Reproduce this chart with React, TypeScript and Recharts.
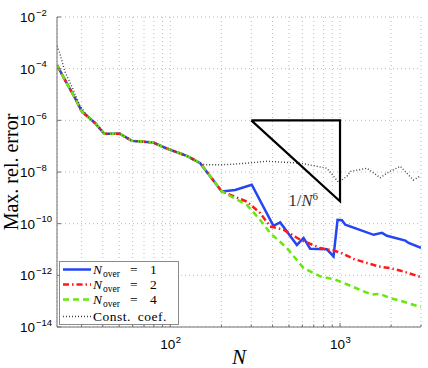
import React from 'react';
import { LineChart, Line, XAxis, YAxis, CartesianGrid, Legend, Label, ReferenceDot } from 'recharts';

// ---- data ----
const commonN = [21.5, 23.9, 27.4, 30.1, 36.0, 40.8, 50.5, 59.4, 79.0, 93.1, 127, 150];
const commonErr = [1.36e-4, 3.74e-5, 7.5e-6, 2.2e-6, 7.9e-7, 3.0e-7, 3.0e-7, 1.6e-7, 1.4e-7, 8.7e-8, 4.0e-8, 2.2e-8];

const over1N = [201, 241, 302, 405, 444, 557, 610, 667, 837, 916, 967, 1026, 1074, 1578, 1767, 1891, 2427, 2537, 3000];
const over1Err = [1.77e-9, 2.0e-9, 3.2e-9, 8.3e-11, 1.12e-10, 1.5e-11, 2.8e-11, 1.07e-11, 1.02e-11, 5.4e-12, 1.41e-10, 1.35e-10, 9.1e-11, 3.7e-11, 4.4e-11, 3.4e-11, 2.2e-11, 1.8e-11, 1.15e-11];

const over2N = [201, 282, 338, 387, 464, 582, 764, 916, 1026, 1202, 1687, 1978, 2371, 3000];
const over2Err = [1.77e-9, 7.2e-10, 2.6e-10, 7.8e-11, 5.9e-11, 2.4e-11, 1.15e-11, 9.1e-12, 7.2e-12, 4.3e-12, 2.2e-12, 1.9e-12, 1.4e-12, 8.5e-13];

const over4N = [201, 282, 338, 387, 486, 610, 764, 937, 1026, 1202, 1377, 1542, 1726, 1978, 2265, 2594, 3000];
const over4Err = [1.77e-9, 5.4e-10, 1.41e-10, 4.4e-11, 1.15e-11, 1.9e-12, 9.1e-13, 6.8e-13, 5.4e-13, 3.5e-13, 2.4e-13, 1.8e-13, 1.9e-13, 1.3e-13, 1.05e-13, 7.9e-14, 5.9e-14];

const constHeadN = [21.5, 22.3, 23.9, 26.8, 29.3, 33];
const constHeadErr = [7.5e-4, 4.1e-4, 7.8e-5, 1.55e-5, 3.7e-6, 1.3e-6];
const constTailN = [160, 196, 234, 282, 370, 582, 837, 980, 1099, 1148, 1441, 1726, 1891, 2265, 2704, 3000];
const constTailErr = [1.9e-8, 1.9e-8, 2.0e-8, 2.2e-8, 2.6e-8, 2.2e-8, 1.4e-8, 4.0e-9, 6.8e-9, 1.05e-8, 1.4e-8, 6.0e-9, 9.1e-9, 1.66e-8, 4.9e-9, 7.2e-9];

const slopeN = [300, 1000, 1000, 300];
const slopeErr = [1e-6, 1e-6, 7.3e-10, 1e-6];

const xTicks = [30, 40, 50, 60, 70, 80, 90, 100, 200, 300, 400, 500, 600, 700, 800, 900, 1000, 2000, 3000];
const xMajor = [100, 1000];
const xMajorExp = ['2', '3'];
const yTicks = [1e-14, 1e-12, 1e-10, 1e-8, 1e-6, 1e-4, 1e-2];
const yTickExp = ['−14', '−12', '−10', '−8', '−6', '−4', '−2'];

const legendValues = ['1', '2', '4'];

// ---- helpers ----
const zip = (ns: number[], es: number[]) => ns.map((n, i) => ({ n, err: es[i] }));
const commonTail = commonN.slice(4).map((n, i) => ({ n, err: commonErr[i + 4] }));

const data1 = [...zip(commonN, commonErr), ...zip(over1N, over1Err)];
const data2 = [...zip(commonN, commonErr), ...zip(over2N, over2Err)];
const data4 = [...zip(commonN, commonErr), ...zip(over4N, over4Err)];
const dataConst = [...zip(constHeadN, constHeadErr), ...commonTail, ...zip(constTailN, constTailErr)];
const dataSlope = zip(slopeN, slopeErr);

const AXIS = '#707070';
const SANS = '"Liberation Sans", Arial, Helvetica, sans-serif';
const SERIF = '"Liberation Serif", "Times New Roman", serif';

const BLUE = '#2346f2';
const RED = '#ff1a1a';
const GREEN = '#66e80a';
const DOT = '#444444';

const RED_DASH = '6 3 1.5 3';
const GREEN_DASH = '6 4';
const DOT_DASH = '1 2';

const BottomTick = (p: any) => {
  const { x, y, payload } = p;
  const idx = xMajor.indexOf(payload.value);
  const major = idx >= 0;
  return (
    <g>
      <line x1={x} x2={x} y1={y} y2={y - (major ? 4 : 2.5)} stroke={AXIS} strokeWidth={1} />
      {major && (
        <g>
          <text x={x + 5} y={y + 22} textAnchor="end" fontFamily={SANS} fontSize={13.5} fill="#000">10</text>
          <text x={x + 5.5} y={y + 15.5} textAnchor="start" fontFamily={SANS} fontSize={9.5} fill="#000">{xMajorExp[idx]}</text>
        </g>
      )}
    </g>
  );
};

const TopTick = (p: any) => {
  const { x, y, payload } = p;
  const major = xMajor.indexOf(payload.value) >= 0;
  return <line x1={x} x2={x} y1={y} y2={y + (major ? 4 : 2.5)} stroke={AXIS} strokeWidth={1} />;
};

const LeftTick = (p: any) => {
  const { x, y, payload } = p;
  const idx = yTicks.indexOf(payload.value);
  return (
    <g>
      <line x1={x} x2={x + 4} y1={y} y2={y} stroke={AXIS} strokeWidth={1} />
      <text x={x - 22} y={y + 5} textAnchor="end" fontFamily={SANS} fontSize={13.5} fill="#000">10</text>
      <text x={x - 21} y={y - 1.5} textAnchor="start" fontFamily={SANS} fontSize={9.5} fill="#000">{yTickExp[idx]}</text>
    </g>
  );
};

const RightTick = (p: any) => {
  const { x, y } = p;
  return <line x1={x} x2={x - 4} y1={y} y2={y} stroke={AXIS} strokeWidth={1} />;
};

const XLabel = (p: any) => {
  const vb = p.viewBox;
  return (
    <text x={vb.x + vb.width / 2} y={vb.y + 37} textAnchor="middle" fontFamily={SERIF} fontStyle="italic" fontSize={21} fill="#000">N</text>
  );
};

const YLabel = (p: any) => {
  const vb = p.viewBox;
  const cx = vb.x + 18;
  const cy = vb.y + vb.height / 2;
  return (
    <text x={cx} y={cy} transform={`rotate(-90 ${cx} ${cy})`} textAnchor="middle" fontFamily={SERIF} fontSize={20} fill="#000">Max. rel. error</text>
  );
};

const SlopeLabel = (p: any) => {
  const vb = p.viewBox;
  return (
    <text x={vb.x} y={vb.y + 6} textAnchor="middle" fontFamily={SERIF} fontSize={16.5} fill="#333">
      1/<tspan fontStyle="italic">N</tspan><tspan dy={-6} fontSize={11}>6</tspan>
    </text>
  );
};

const legendRows = [
  { color: BLUE, dash: undefined as string | undefined, base: 13 },
  { color: RED, dash: RED_DASH, base: 28 },
  { color: GREEN, dash: GREEN_DASH, base: 43 },
];

const LegendBox = () => (
  <svg width={120} height={64} style={{ display: 'block' }}>
    <rect x={0.5} y={0.5} width={119} height={63} fill="#fff" stroke="#8a8a8a" strokeWidth={1} />
    {legendRows.map((r, i) => (
      <g key={i}>
        <line x1={4} x2={32} y1={r.base - 4.5} y2={r.base - 4.5} stroke={r.color} strokeWidth={2.5} strokeDasharray={r.dash} />
        <text x={34} y={r.base} fontFamily={SERIF} fontSize={13.5} fill="#000">
          <tspan fontStyle="italic">N</tspan>
          <tspan x={44} dy={2.5} fontSize={9.5}>over</tspan>
          <tspan x={71} dy={-2.5}>=</tspan>
          <tspan x={91}>{legendValues[i]}</tspan>
        </text>
      </g>
    ))}
    <line x1={4} x2={32} y1={55.5} y2={55.5} stroke={DOT} strokeWidth={1.4} strokeDasharray={DOT_DASH} />
    <text x={34} y={60} fontFamily={SERIF} fontSize={13.5} fill="#000" letterSpacing={0.5} wordSpacing={3}>Const. coef.</text>
  </svg>
);

export default function App() {
  return (
    <div style={{ width: 428, height: 368, background: '#fff' }}>
      <style>{'body{margin:0;background:#fff}'}</style>
      <LineChart width={428} height={368} margin={{ top: 17, right: 7, bottom: 0, left: 0 }}>
        <CartesianGrid xAxisId="bottom" yAxisId="left" stroke="#bcbcbc" strokeDasharray="1 3" strokeWidth={1} />
        <XAxis
          xAxisId="bottom"
          dataKey="n"
          type="number"
          scale="log"
          domain={[21.5, 3000]}
          allowDataOverflow
          ticks={xTicks}
          interval={0}
          tickSize={0}
          tickMargin={0}
          height={41}
          axisLine={{ stroke: AXIS, strokeWidth: 1 }}
          tickLine={false}
          tick={(p: any) => <BottomTick {...p} />}
        >
          <Label content={XLabel} />
        </XAxis>
        <XAxis
          xAxisId="top"
          orientation="top"
          dataKey="n"
          type="number"
          scale="log"
          domain={[21.5, 3000]}
          allowDataOverflow
          ticks={xTicks}
          interval={0}
          tickSize={0}
          tickMargin={0}
          height={0}
          axisLine={{ stroke: AXIS, strokeWidth: 1 }}
          tickLine={false}
          tick={(p: any) => <TopTick {...p} />}
        />
        <YAxis
          yAxisId="left"
          dataKey="err"
          type="number"
          scale="log"
          domain={[1e-14, 1e-2]}
          allowDataOverflow
          ticks={yTicks}
          interval={0}
          tickSize={0}
          tickMargin={0}
          width={57}
          axisLine={{ stroke: AXIS, strokeWidth: 1 }}
          tickLine={false}
          tick={(p: any) => <LeftTick {...p} />}
        >
          <Label content={YLabel} />
        </YAxis>
        <YAxis
          yAxisId="right"
          orientation="right"
          type="number"
          scale="log"
          domain={[1e-14, 1e-2]}
          allowDataOverflow
          ticks={yTicks}
          interval={0}
          tickSize={0}
          tickMargin={0}
          width={0}
          axisLine={{ stroke: AXIS, strokeWidth: 1 }}
          tickLine={false}
          tick={(p: any) => <RightTick {...p} />}
        />
        <Line xAxisId="bottom" yAxisId="left" data={data1} dataKey="err" type="linear" stroke={BLUE} strokeWidth={2.5} dot={false} activeDot={false} isAnimationActive={false} />
        <Line xAxisId="bottom" yAxisId="left" data={data2} dataKey="err" type="linear" stroke={RED} strokeWidth={2.5} strokeDasharray={RED_DASH} dot={false} activeDot={false} isAnimationActive={false} />
        <Line xAxisId="bottom" yAxisId="left" data={data4} dataKey="err" type="linear" stroke={GREEN} strokeWidth={2.5} strokeDasharray={GREEN_DASH} dot={false} activeDot={false} isAnimationActive={false} />
        <Line xAxisId="bottom" yAxisId="left" data={dataConst} dataKey="err" type="linear" stroke={DOT} strokeWidth={1.4} strokeDasharray={DOT_DASH} dot={false} activeDot={false} isAnimationActive={false} />
        <Line xAxisId="bottom" yAxisId="left" data={dataSlope} dataKey="err" type="linear" stroke="#000" strokeWidth={2.2} strokeLinejoin="miter" dot={false} activeDot={false} isAnimationActive={false} />
        <ReferenceDot xAxisId="bottom" yAxisId="left" x={607} y={8.5e-10} r={0} fill="none" stroke="none" label={<Label content={SlopeLabel} />} />
        <Legend
          layout="vertical"
          align="center"
          verticalAlign="middle"
          content={() => <LegendBox />}
          wrapperStyle={{ left: 59, top: 261, width: 120, height: 64 }}
        />
      </LineChart>
    </div>
  );
}
